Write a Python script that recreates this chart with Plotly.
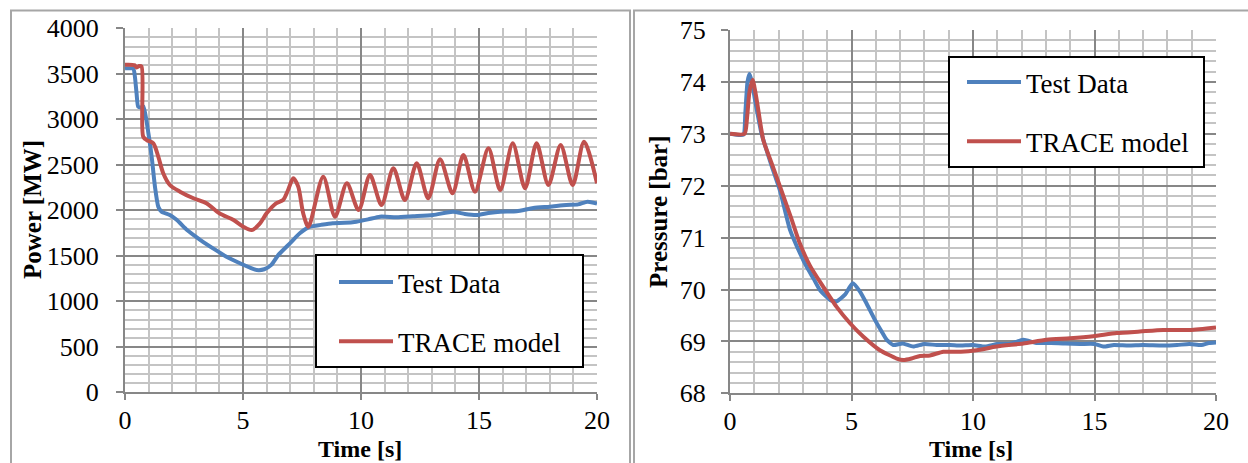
import plotly.graph_objects as go

W, H = 1248, 463

# ---------------- data: Power (left) ----------------
t_pow_test = [0, 0.35, 0.42, 0.49, 0.56, 0.67, 0.78, 0.99, 1.13, 1.27, 1.41, 1.55, 1.9, 2.2,
              2.63, 3.2, 3.8, 4.3, 4.87, 5.3, 5.58, 5.9, 6.2, 6.5, 7.0, 7.42, 7.84, 8.3, 8.8,
              9.3, 9.8, 10.3, 10.8, 11.5, 12.2, 13.05, 13.9, 14.4, 14.9, 15.4, 15.9, 16.6,
              17.3, 18.0, 18.7, 19.2, 19.6, 20]
p_pow_test = [3560, 3555, 3468, 3286, 3138, 3130, 3140, 2848, 2589, 2259, 2040, 1985, 1948, 1893,
              1783, 1673, 1570, 1490, 1418, 1370, 1344, 1352, 1400, 1510, 1640, 1750, 1820, 1840, 1858,
              1862, 1875, 1900, 1930, 1925, 1935, 1948, 1985, 1960, 1948, 1970, 1985, 1990,
              2025, 2040, 2058, 2065, 2095, 2075]

t_pow_trace = [0, 0.4, 0.5, 0.6, 0.7, 0.77, 0.92, 1.2, 1.41, 1.62, 1.9, 2.33, 2.9, 3.45, 4.0,
               4.6, 5.01, 5.37, 5.72, 6.0, 6.4, 6.7, 6.91, 7.13, 7.34, 7.55, 7.77, 8.4, 8.9,
               9.4, 9.9, 10.38, 10.87, 11.37, 11.86, 12.36, 12.85, 13.35, 13.88, 14.34, 14.83,
               15.4, 15.9, 16.43, 16.95, 17.44, 17.94, 18.46, 18.97, 19.45, 20]
p_pow_trace = [3600, 3595, 3570, 3585, 3580, 2810, 2772, 2736, 2589, 2407, 2278, 2205, 2132, 2077, 1967,
               1893, 1820, 1783, 1857, 1967, 2077, 2113, 2223, 2352, 2260, 1967, 1820, 2370, 1930,
               2297, 2003, 2388, 2058, 2462, 2113, 2517, 2132, 2560, 2187, 2608, 2205,
               2681, 2223, 2736, 2242, 2736, 2278, 2718, 2278, 2754, 2297]

# ---------------- data: Pressure (right) ----------------
t_prs_test = [0, 0.55, 0.63, 0.72, 0.8, 0.9, 1.03, 1.3, 1.7, 2.06, 2.47, 2.88, 3.15, 3.45, 3.7,
              4.12, 4.38, 4.73, 5.05, 5.35, 5.62, 5.97, 6.24, 6.45, 6.72, 7.1, 7.54, 8.0, 8.5,
              9.05, 9.5, 10.0, 10.5, 11.0, 11.5, 12.07, 12.6, 13.2, 13.8, 14.4, 15.0, 15.36,
              15.8, 16.4, 17.0, 17.8, 18.4, 18.9, 19.4, 19.7, 20]
p_prs_test = [73.0, 72.98, 73.4, 74.0, 74.15, 74.0, 73.65, 73.0, 72.4, 71.9, 71.15, 70.7, 70.44, 70.2, 69.99,
              69.8, 69.77, 69.9, 70.12, 69.96, 69.73, 69.41, 69.19, 69.03, 68.93, 68.96, 68.9, 68.95, 68.93,
              68.93, 68.92, 68.93, 68.9, 68.95, 68.95, 69.03, 68.97, 68.97, 68.96, 68.95, 68.95, 68.9,
              68.93, 68.92, 68.93, 68.92, 68.93, 68.95, 68.93, 68.97, 68.98]

t_prs_trace = [0, 0.6, 0.7, 0.8, 0.93, 1.1, 1.37, 1.7, 2.06, 2.5, 2.88, 3.3, 3.84, 4.38, 4.94,
               5.49, 6.17, 6.86, 7.13, 7.47, 7.82, 8.23, 8.78, 9.5, 10.15, 10.97, 12.07, 13.03,
               13.99, 14.95, 15.91, 16.87, 17.83, 18.93, 20]
p_prs_trace = [73.0, 73.0, 73.3, 73.8, 74.04, 73.65, 72.88, 72.45, 71.98, 71.4, 70.88, 70.45, 70.05, 69.67, 69.35,
               69.09, 68.83, 68.67, 68.64, 68.67, 68.72, 68.73, 68.8, 68.8, 68.83, 68.9, 68.96, 69.03,
               69.06, 69.1, 69.16, 69.19, 69.22, 69.22, 69.27]

series_names = ["Test Data", "TRACE model"]
BLUE = "#4F81BD"
RED = "#C0504D"
FONT = "Liberation Serif"

def px(x):
    return x / W

def py(y):
    return 1 - y / H

fig = go.Figure()

fig.add_trace(go.Scatter(x=t_pow_test, y=p_pow_test, name=series_names[0], mode="lines",
                         line=dict(color=BLUE, width=4, shape="spline", smoothing=0.6),
                         xaxis="x", yaxis="y", legend="legend", legendgroup="a"))
fig.add_trace(go.Scatter(x=t_pow_trace, y=p_pow_trace, name=series_names[1], mode="lines",
                         line=dict(color=RED, width=4, shape="spline", smoothing=0.8),
                         xaxis="x", yaxis="y", legend="legend", legendgroup="b"))
fig.add_trace(go.Scatter(x=t_prs_test, y=p_prs_test, name=series_names[0], mode="lines",
                         line=dict(color=BLUE, width=4, shape="spline", smoothing=0.5),
                         xaxis="x2", yaxis="y2", legend="legend2", legendgroup="c"))
fig.add_trace(go.Scatter(x=t_prs_trace, y=p_prs_trace, name=series_names[1], mode="lines",
                         line=dict(color=RED, width=4, shape="spline", smoothing=0.6),
                         xaxis="x2", yaxis="y2", legend="legend2", legendgroup="d"))

MAJ = "#878787"
MIN = "#C4C4C4"
tickfont = dict(family=FONT, size=26, color="black")

def xaxis_cfg(domain, anchor):
    return dict(domain=domain, anchor=anchor, range=[0, 20], dtick=5, tick0=0,
                showgrid=True, gridcolor=MAJ, gridwidth=2,
                minor=dict(dtick=1, showgrid=True, gridcolor=MIN, gridwidth=2),
                showline=True, linecolor=MAJ, linewidth=2,
                ticks="outside", ticklen=6, tickwidth=2, tickcolor=MAJ,
                ticklabelstandoff=-3, zeroline=False, tickfont=tickfont,
                automargin=False, fixedrange=True)

def yaxis_cfg(domain, anchor, rng, dtick, mdtick, standoff):
    return dict(domain=domain, anchor=anchor, range=rng, dtick=dtick,
                showgrid=True, gridcolor=MAJ, gridwidth=2,
                minor=dict(dtick=mdtick, showgrid=True, gridcolor=MIN, gridwidth=2),
                showline=True, linecolor=MAJ, linewidth=2,
                ticks="outside", ticklen=7, tickwidth=2, tickcolor=MAJ,
                ticklabelstandoff=standoff, zeroline=False, tickfont=tickfont,
                automargin=False, fixedrange=True)

legend_common = dict(font=dict(family=FONT, size=27, color="black"), bgcolor="rgba(0,0,0,0)",
                     borderwidth=0, xanchor="left", yanchor="top",
                     itemwidth=54, tracegroupgap=21, traceorder="grouped")

title_font = dict(family=FONT, size=25, color="black")
xtitle_font = dict(family=FONT, size=24, color="black")

fig.update_layout(
    template="none",
    width=W, height=H, margin=dict(l=0, r=0, t=0, b=0, autoexpand=False),
    paper_bgcolor="white", plot_bgcolor="white",
    font=dict(family=FONT, color="black"),
    xaxis=xaxis_cfg([px(125), px(597)], "y"),
    yaxis=yaxis_cfg([py(392.3), py(28.3)], "x", [0, 4000], 500, 100, 12),
    xaxis2=xaxis_cfg([px(730), px(1216)], "y2"),
    yaxis2=yaxis_cfg([py(393.3), py(30)], "x2", [68, 75], 1, 0.2, 10),
    legend=dict(x=px(334), y=py(258), **legend_common),
    legend2=dict(x=px(962), y=py(58), **legend_common),
    shapes=[
        # outer chart frames
        dict(type="rect", xref="paper", yref="paper", x0=px(11), x1=px(630), y0=py(480), y1=py(10.5),
             line=dict(color="#A6A6A6", width=2), layer="below"),
        dict(type="rect", xref="paper", yref="paper", x0=px(634), x1=px(1260), y0=py(480), y1=py(10.5),
             line=dict(color="#A6A6A6", width=2), layer="below"),
        # legend boxes
        dict(type="rect", xref="paper", yref="paper", x0=px(316), x1=px(583), y0=py(367), y1=py(255),
             line=dict(color="black", width=2), fillcolor="white", layer="above"),
        dict(type="rect", xref="paper", yref="paper", x0=px(949), x1=px(1204), y0=py(167), y1=py(57),
             line=dict(color="black", width=2), fillcolor="white", layer="above"),
    ],
    annotations=[
        dict(text="<b>Power [MW]</b>", x=px(32), y=py(210), xref="paper", yref="paper",
             xanchor="center", yanchor="middle", textangle=-90, showarrow=False, font=title_font),
        dict(text="<b>Time [s]</b>", x=px(360), y=0, xref="paper", yref="paper",
             xanchor="center", yanchor="bottom", showarrow=False, font=xtitle_font, borderpad=0),
        dict(text="<b>Pressure [bar]</b>", x=px(658), y=py(212), xref="paper", yref="paper",
             xanchor="center", yanchor="middle", textangle=-90, showarrow=False, font=title_font),
        dict(text="<b>Time [s]</b>", x=px(971), y=0, xref="paper", yref="paper",
             xanchor="center", yanchor="bottom", showarrow=False, font=xtitle_font, borderpad=0),
    ],
)

fig.write_html("out.html", config={"displayModeBar": False},
               post_script="document.body.style.margin='0';document.body.style.overflow='hidden';")
